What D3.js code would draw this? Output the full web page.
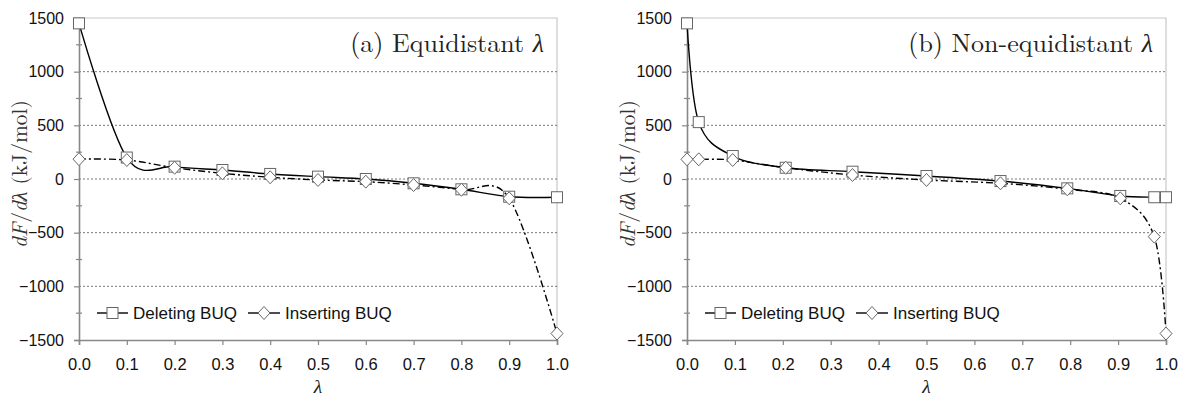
<!DOCTYPE html>
<html>
<head>
<meta charset="utf-8">
<script src="https://cdn.jsdelivr.net/npm/d3@7"></script>
<style>
body { margin: 0; background: #fff; }
svg { display: block; }
</style>
</head>
<body>
<svg id="chart" width="1180" height="398"></svg>
<script>
// lambda values for both panels
var lambdaEq = [0.0, 0.1, 0.2, 0.3, 0.4, 0.5, 0.6, 0.7, 0.8, 0.9, 1.0];
var lambdaNeq = [0.0, 0.0245, 0.0955, 0.2061, 0.3455, 0.5, 0.6545, 0.7939, 0.9045, 0.9755, 1.0];

// dF/dlambda in kJ/mol
var deletingEq = [1450, 200, 115, 84, 47, 22, 0, -40, -96, -165, -170];
var insertingEq = [185, 177, 105, 53, 16, -9, -25, -56, -100, -180, -1440];
var deletingNeq = [1450, 530, 214, 105, 68, 28, -19, -87, -158, -170, -170];
var insertingNeq = [183, 183, 177, 105, 37, -9, -40, -96, -180, -537, -1440];

var xTicks = [0, 0.1, 0.2, 0.3, 0.4, 0.5, 0.6, 0.7, 0.8, 0.9, 1.0];
var yTicks = [-1500, -1000, -500, 0, 500, 1000, 1500];
var yMinorTicks = [-1250, -750, -250, 250, 750, 1250];
var seriesNames = ["Deleting BUQ", "Inserting BUQ"];
var panelTitles = ["(a) Equidistant ", "(b) Non-equidistant "];

var svg = d3.select('#chart');
var plotTop = 18, plotBottom = 340;
var sansFont = '"Liberation Sans", Arial, sans-serif';
var serifFont = '"Latin Modern Roman", "Liberation Serif", "Times New Roman", serif';

function zip(xs, ys) {
    return xs.map(function(x, i) { return [x, ys[i]]; });
}

function drawPanel(left, right, title, lam, del, ins) {
    var x = d3.scaleLinear().domain([0, 1]).range([left, right]);
    var y = d3.scaleLinear().domain([-1500, 1500]).range([plotBottom, plotTop]);
    var g = svg.append('g');

    // top + right frame
    g.append('path')
        .attr('d', 'M' + left + ',' + y(1500) + 'H' + right + 'V' + plotBottom)
        .attr('fill', 'none')
        .attr('stroke', '#c8c8c8')
        .attr('stroke-width', 1.2);

    // dotted grid
    g.selectAll('.grid')
        .data(yTicks.filter(function(d) { return d > -1500 && d < 1500; }))
        .enter().append('line')
        .attr('x1', left).attr('x2', right)
        .attr('y1', function(d) { return y(d); })
        .attr('y2', function(d) { return y(d); })
        .attr('stroke', '#555')
        .attr('stroke-width', 0.8)
        .attr('stroke-dasharray', '2,2');

    // y axis
    var yAxis = d3.axisLeft(y).tickValues(yTicks).tickSize(5).tickPadding(10)
        .tickFormat(d3.format('d'));
    var ya = g.append('g').attr('transform', 'translate(' + left + ',0)').call(yAxis);
    ya.select('.domain').attr('stroke', '#888').attr('stroke-width', 1.6);
    ya.selectAll('.tick line').attr('stroke', '#888').attr('stroke-width', 1.2);
    ya.selectAll('.tick text')
        .attr('font-family', sansFont).attr('font-size', 16).attr('fill', '#111');

    g.selectAll('.minor')
        .data(yMinorTicks)
        .enter().append('line')
        .attr('x1', left - 3).attr('x2', left + 3)
        .attr('y1', function(d) { return y(d); })
        .attr('y2', function(d) { return y(d); })
        .attr('stroke', '#888')
        .attr('stroke-width', 1.2);

    // x axis
    var xAxis = d3.axisBottom(x).tickValues(xTicks).tickSize(5).tickPadding(13)
        .tickFormat(d3.format('.1f'));
    var xa = g.append('g').attr('transform', 'translate(0,' + plotBottom + ')').call(xAxis);
    xa.select('.domain').attr('stroke', '#888').attr('stroke-width', 1.6);
    xa.selectAll('.tick line').attr('stroke', '#888').attr('stroke-width', 1.2);
    xa.selectAll('.tick text')
        .attr('font-family', sansFont).attr('font-size', 16.5).attr('fill', '#111');

    // axis titles
    var yt = g.append('text')
        .attr('transform', 'translate(' + (left - 52) + ',' + 174 + ') rotate(-90)')
        .attr('text-anchor', 'middle')
        .attr('font-family', serifFont)
        .attr('font-size', 21.5)
        .attr('fill', '#333');
    yt.append('tspan').attr('font-style', 'italic').text('dF');
    yt.append('tspan').text('/');
    yt.append('tspan').attr('font-style', 'italic').text('d\u03bb');
    yt.append('tspan').text(' (kJ/mol)');

    g.append('text')
        .attr('x', (left + right) / 2)
        .attr('y', 393)
        .attr('text-anchor', 'middle')
        .attr('font-family', serifFont)
        .attr('font-style', 'italic')
        .attr('font-size', 19.5)
        .attr('fill', '#222')
        .text('\u03bb');

    // panel title
    var tt = g.append('text')
        .attr('x', right - 13)
        .attr('y', 52)
        .attr('text-anchor', 'end')
        .attr('font-family', serifFont)
        .attr('font-size', 26)
        .attr('fill', '#222');
    tt.append('tspan').text(title);
    tt.append('tspan').attr('font-style', 'italic').text('\u03bb');

    var line = d3.line()
        .x(function(d) { return x(d[0]); })
        .y(function(d) { return y(d[1]); })
        .curve(d3.curveCardinal.tension(0));

    var delPts = zip(lam, del);
    var insPts = zip(lam, ins);

    g.append('path')
        .attr('d', line(delPts))
        .attr('fill', 'none')
        .attr('stroke', '#000')
        .attr('stroke-width', 1.4);

    g.selectAll('.sq')
        .data(delPts)
        .enter().append('rect')
        .attr('x', function(d) { return x(d[0]) - 5.5; })
        .attr('y', function(d) { return y(d[1]) - 5.5; })
        .attr('width', 11).attr('height', 11)
        .attr('fill', '#fff')
        .attr('stroke', '#666')
        .attr('stroke-width', 1);

    g.append('path')
        .attr('d', line(insPts))
        .attr('fill', 'none')
        .attr('stroke', '#000')
        .attr('stroke-width', 1.4)
        .attr('stroke-dasharray', '7,3,2,3');

    g.selectAll('.dm')
        .data(insPts)
        .enter().append('path')
        .attr('d', function(d) {
            var cx = x(d[0]), cy = y(d[1]);
            return 'M' + cx + ',' + (cy - 6.5) + 'L' + (cx + 6) + ',' + cy +
                'L' + cx + ',' + (cy + 6.5) + 'L' + (cx - 6) + ',' + cy + 'Z';
        })
        .attr('fill', '#fff')
        .attr('stroke', '#666')
        .attr('stroke-width', 1);

    // legend
    var ly = 313;
    var lg = g.append('g').attr('transform', 'translate(' + (left + 18) + ',' + ly + ')');
    lg.append('line').attr('x1', 0).attr('x2', 31).attr('stroke', '#000').attr('stroke-width', 1.4);
    lg.append('rect').attr('x', 10).attr('y', -5.5).attr('width', 11).attr('height', 11)
        .attr('fill', '#fff').attr('stroke', '#666');
    lg.append('text').attr('x', 36).attr('y', 6)
        .attr('font-family', sansFont).attr('font-size', 17).attr('fill', '#111')
        .text(seriesNames[0]);
    lg.append('line').attr('x1', 151).attr('x2', 183).attr('stroke', '#000').attr('stroke-width', 1.4);
    lg.append('path').attr('d', 'M167,-6.5L173,0L167,6.5L161,0Z')
        .attr('fill', '#fff').attr('stroke', '#666');
    lg.append('text').attr('x', 188).attr('y', 6)
        .attr('font-family', sansFont).attr('font-size', 17).attr('fill', '#111')
        .text(seriesNames[1]);
}

drawPanel(79, 557, panelTitles[0], lambdaEq, deletingEq, insertingEq);
drawPanel(687, 1166, panelTitles[1], lambdaNeq, deletingNeq, insertingNeq);
</script>
</body>
</html>
